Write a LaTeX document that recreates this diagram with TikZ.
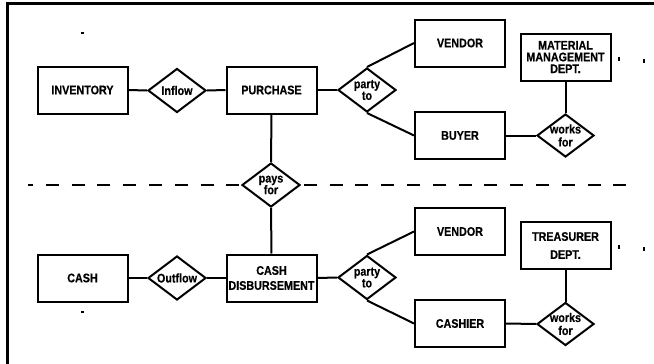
\documentclass[tikz,border=0pt]{standalone}
\usepackage{fontspec}
\setmainfont{Liberation Sans}[FakeStretch=0.86, BoldFeatures={FakeBold=0.4}]
\usetikzlibrary{shapes.geometric}
\begin{document}
\begin{tikzpicture}[x=1pt,y=-1pt,line width=2pt,
  ent/.style={draw, rectangle, minimum width=90pt, minimum height=47pt, inner sep=0pt,
    font=\bfseries\fontsize{12.5}{13}\selectfont, align=center},
  rel/.style={draw, diamond, fill=white, minimum width=58pt, minimum height=44pt, inner sep=0pt},
  lbl/.style={font=\bfseries\fontsize{12.5}{11.7}\selectfont, align=center, inner sep=0pt},
  conn/.style={line width=2pt},
  frame/.style={line width=2.5pt},
  divider/.style={line width=2pt, dash pattern=on 13pt off 12.8pt, dash phase=8pt},
  speck/.style={fill=black}]
\useasboundingbox (0,0) rectangle (654,364);

% outer frame (top and left edges)
\draw[frame] (7.5,364) -- (7.5,3.5) -- (654,3.5);

% dashed divider
\coordinate (dl) at (28,185);
\coordinate (dr) at (626,185);
\draw[divider] (dl) -- (dr);

% upper half
\node[ent] (inv) at (82.5,90) {INVENTORY};
\node[rel, label={[lbl]center:Inflow}] (inflow) at (177,90.5) {};
\node[ent] (pur) at (271.5,90) {PURCHASE};
\node[rel, label={[lbl]center:{party\\to}}] (party1) at (367,90) {};
\node[ent] (vend1) at (460,43) {VENDOR};
\node[ent] (buyer) at (460,135.5) {BUYER};
\node[ent, font=\bfseries\fontsize{12.5}{11.7}\selectfont] (mmd) at (565.5,57) {MATERIAL\\MANAGEMENT\\DEPT.};
\node[rel, minimum width=57pt, minimum height=43pt, label={[lbl, font=\bfseries\fontsize{12.5}{13}\selectfont]center:{works\\for}}] (works1) at (565.5,135.5) {};

% middle
\node[rel, label={[lbl]center:{pays\\for}}] (pays) at (271,185) {};

% lower half
\node[ent] (cash) at (82.5,278) {CASH};
\node[rel, label={[lbl]center:Outflow}] (outflow) at (177,278) {};
\node[ent, font=\bfseries\fontsize{12.5}{15}\selectfont] (cd) at (271.5,278) {CASH\\DISBURSEMENT};
\node[rel, label={[lbl]center:{party\\to}}] (party2) at (367,277.5) {};
\node[ent] (vend2) at (460,231.5) {VENDOR};
\node[ent] (cashier) at (460,323.5) {CASHIER};
\node[ent, font=\bfseries\fontsize{12.5}{18}\selectfont] (treas) at (565.5,245.5) {TREASURER\\DEPT.};
\node[rel, minimum width=57pt, minimum height=43pt, label={[lbl, font=\bfseries\fontsize{12.5}{13}\selectfont]center:{works\\for}}] (works2) at (565.5,324) {};

% connectors
\draw[conn] (inv.east) -- (inflow.west);
\draw[conn] (inflow.east) -- (pur.west);
\draw[conn] (pur.east) -- (party1.west);
\draw[conn] (party1.north) -- (vend1.west);
\draw[conn] (party1.south) -- (buyer.west);
\draw[conn] (buyer.east) -- (works1.west);
\draw[conn] (mmd.south) -- (works1.north);
\draw[conn] (pur.south) -- (pays.north);
\draw[conn] (pays.south) -- (cd.north);
\draw[conn] (cash.east) -- (outflow.west);
\draw[conn] (outflow.east) -- (cd.west);
\draw[conn] (cd.east) -- (party2.west);
\draw[conn] (party2.north) -- (vend2.west);
\draw[conn] (party2.south) -- (cashier.west);
\draw[conn] (cashier.east) -- (works2.west);
\draw[conn] (treas.south) -- (works2.north);

% small specks
\fill[speck] (80.5,32) rectangle (84,34);
\fill[speck] (80.5,310.5) rectangle (84,312.5);
\fill[speck] (617.5,57) rectangle (619.5,61);
\fill[speck] (642.5,59) rectangle (644.5,63);
\fill[speck] (617.5,245) rectangle (619.5,249);
\fill[speck] (642.5,247) rectangle (644.5,251);
\end{tikzpicture}
\end{document}
